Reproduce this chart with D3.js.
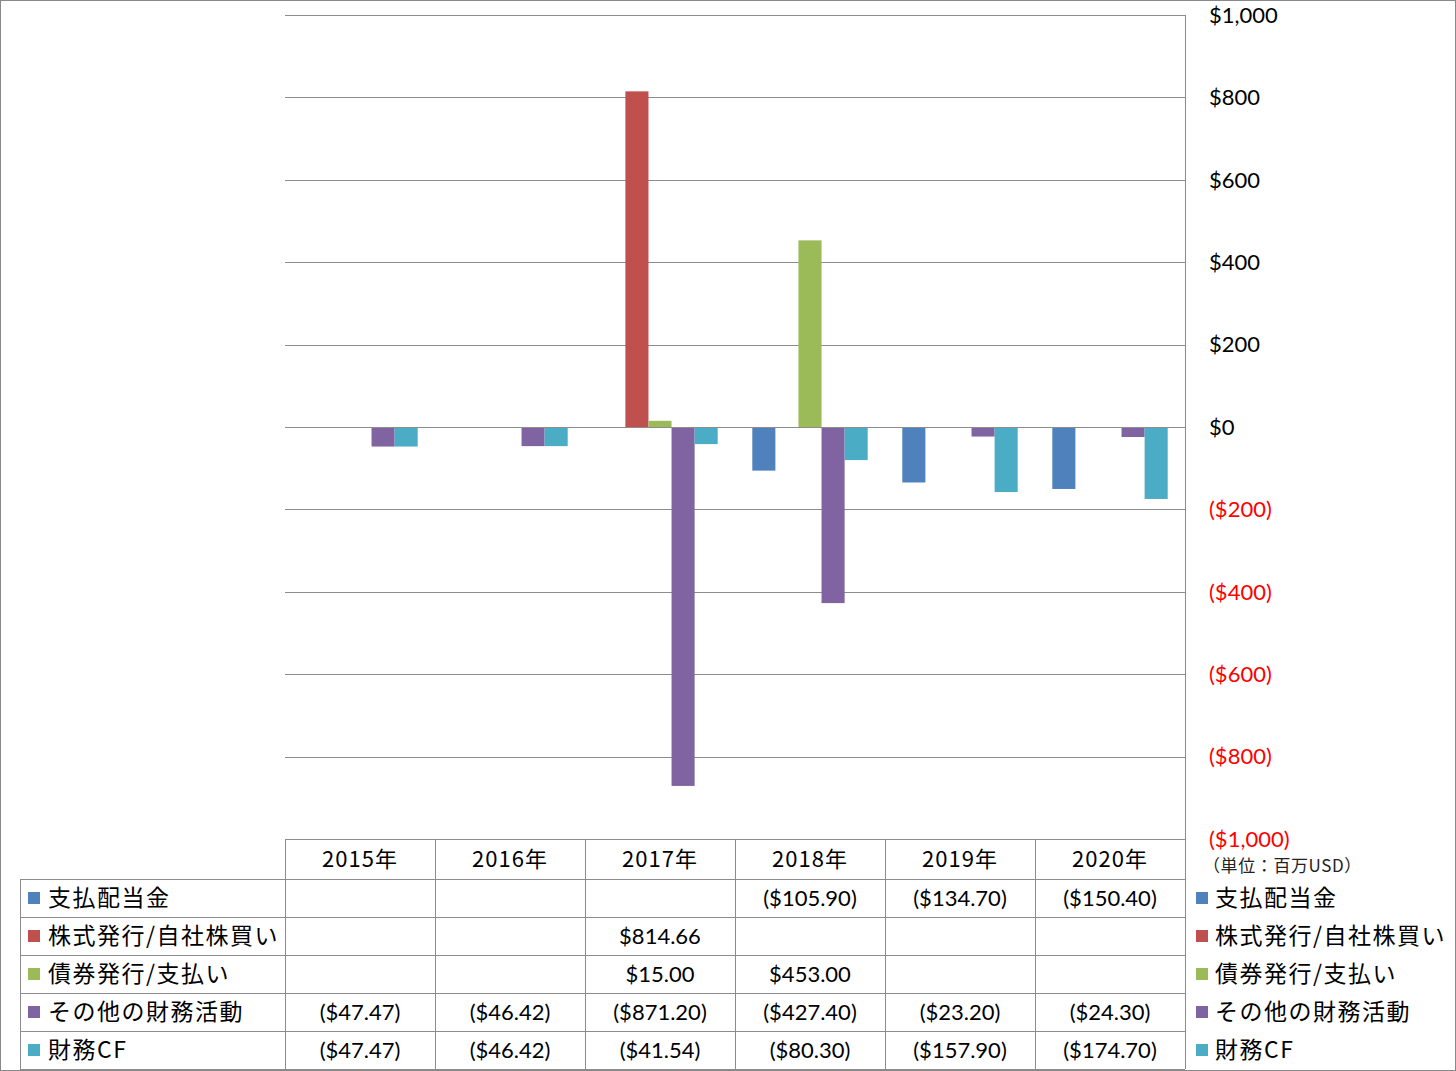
<!DOCTYPE html>
<html><head><meta charset="utf-8">
<script src="https://cdn.jsdelivr.net/npm/d3@7"></script>
<style>body{margin:0;background:#fff}svg{display:block}</style>
</head><body>
<script>
const categories = ["2015年","2016年","2017年","2018年","2019年","2020年"];
const seriesNames = ["支払配当金","株式発行/自社株買い","債券発行/支払い","その他の財務活動","財務CF"];
const dividends = [null,null,null,-105.90,-134.70,-150.40];
const equity = [null,null,814.66,null,null,null];
const debt = [null,null,15.00,453.00,null,null];
const other = [-47.47,-46.42,-871.20,-427.40,-23.20,-24.30];
const financeCF = [-47.47,-46.42,-41.54,-80.30,-157.90,-174.70];
const yTicks = [1000,800,600,400,200,0,-200,-400,-600,-800,-1000];
const colors = ["#4F81BD","#C0504D","#9BBB59","#8064A2","#4BACC6"];
const series = [dividends,equity,debt,other,financeCF];

const W=1456,H=1071;
const svg=d3.select("body").append("svg").attr("width",W).attr("height",H);
svg.append("rect").attr("x",0.5).attr("y",0.5).attr("width",W-1).attr("height",H-1).attr("fill","#fff").attr("stroke","#888");

const pL=285,pR=1185,pT=15,pB=839;
const x=d3.scaleBand().domain(categories).range([pL,pR]);
const bw=x.bandwidth()/6.5;
const xs=d3.scaleBand().domain(d3.range(5)).range([bw*0.75,bw*5.75]);
const y=d3.scaleLinear().domain([-1000,1000]).range([pB,pT]);
const grid="#8c8c8c";
const jp="'Noto Sans CJK JP', sans-serif";
const num="Lato, 'Open Sans', sans-serif";
const fmt=v=>{const s="$"+d3.format(",.2f")(Math.abs(v));return v<0?"("+s+")":s;};
const fmtAx=v=>{const s="$"+d3.format(",")(Math.abs(v));return v<0?"("+s+")":s;};

svg.append("g").selectAll("line").data(yTicks).join("line")
 .attr("x1",pL).attr("x2",pR).attr("y1",d=>Math.round(y(d))+0.5).attr("y2",d=>Math.round(y(d))+0.5)
 .attr("stroke",grid).attr("stroke-width",1);
svg.append("line").attr("x1",pR+0.5).attr("x2",pR+0.5).attr("y1",pT).attr("y2",1069).attr("stroke",grid);

series.forEach((s,i)=>{
 svg.append("g").selectAll("rect").data(s.map((v,j)=>({v,c:categories[j]})).filter(d=>d.v!==null)).join("rect")
  .attr("x",d=>x(d.c)+xs(i)).attr("width",xs.bandwidth())
  .attr("y",d=>y(Math.max(0,d.v))).attr("height",d=>Math.abs(y(d.v)-y(0)))
  .attr("fill",colors[i]);
});
svg.append("line").attr("x1",pL).attr("x2",pR).attr("y1",Math.round(y(0))+0.5).attr("y2",Math.round(y(0))+0.5).attr("stroke",grid);

svg.append("g").selectAll("text").data(yTicks).join("text")
 .attr("x",1209).attr("y",d=>y(d)).attr("dy","0.35em")
 .attr("font-family",num).attr("font-size",22)
 .attr("fill",d=>d<0?"#FF0000":"#000").text(fmtAx);
svg.append("text").attr("x",1203).attr("y",866).attr("dy","0.35em").attr("font-family",jp).attr("font-size",17).attr("letter-spacing",0.6).attr("fill","#222").text("（単位：百万USD）");

const rowTop=879,rowH=38;
const tg=svg.append("g");
d3.range(7).forEach(i=>{
 const xx=pL+i*x.bandwidth();
 tg.append("line").attr("x1",Math.round(xx)+0.5).attr("x2",Math.round(xx)+0.5).attr("y1",pB).attr("y2",1069).attr("stroke",grid);
});
tg.append("line").attr("x1",20.5).attr("x2",20.5).attr("y1",rowTop).attr("y2",1069).attr("stroke",grid);
for(let r=0;r<=5;r++){
 const yy=rowTop+r*rowH;
 tg.append("line").attr("x1",20).attr("x2",pR).attr("y1",Math.round(yy)+0.5).attr("y2",Math.round(yy)+0.5).attr("stroke",grid);
}
tg.selectAll(".hd").data(categories).join("text")
 .attr("x",d=>x(d)+x.bandwidth()/2).attr("y",(pB+rowTop)/2).attr("dy","0.35em")
 .attr("text-anchor","middle").attr("font-family",jp).attr("font-size",22).attr("letter-spacing",1).text(d=>d);
series.forEach((s,i)=>{
 const cy=rowTop+i*rowH+rowH/2;
 tg.append("g").selectAll("text").data(s.map((v,j)=>({v,c:categories[j]})).filter(d=>d.v!==null)).join("text")
  .attr("x",d=>x(d.c)+x.bandwidth()/2).attr("y",cy).attr("dy","0.35em").attr("text-anchor","middle")
  .attr("font-family",num).attr("font-size",22).text(d=>fmt(d.v));
 tg.append("rect").attr("x",28).attr("y",cy-6).attr("width",12).attr("height",12).attr("fill",colors[i]);
 tg.append("text").attr("x",48).attr("y",cy).attr("dy","0.35em").attr("font-family",jp).attr("font-size",23).attr("letter-spacing",1.5).text(seriesNames[i]);
 tg.append("rect").attr("x",1196).attr("y",cy-6).attr("width",12).attr("height",12).attr("fill",colors[i]);
 tg.append("text").attr("x",1215).attr("y",cy).attr("dy","0.35em").attr("font-family",jp).attr("font-size",23).attr("letter-spacing",1.5).text(seriesNames[i]);
});
</script>
</body></html>
